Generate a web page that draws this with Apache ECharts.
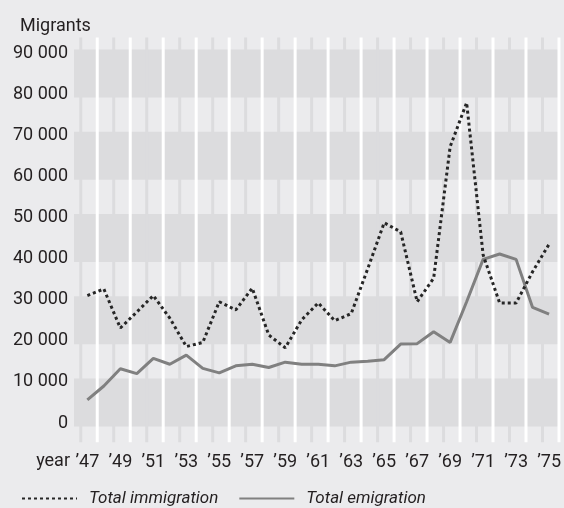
<!DOCTYPE html>
<html>
<head>
<meta charset="utf-8">
<script src="https://cdn.jsdelivr.net/npm/echarts@6/dist/echarts.min.js"></script>
<style>
html,body{margin:0;padding:0;background:#ebebed;}
#chart{width:564px;height:508px;}
</style>
</head>
<body>
<div id="chart"></div>
<script>
// ---- data ----
const years = [1947,1948,1949,1950,1951,1952,1953,1954,1955,1956,1957,1958,1959,1960,1961,1962,1963,1964,1965,1966,1967,1968,1969,1970,1971,1972,1973,1974,1975];
const immigration = [31000,32600,23100,27000,31000,25500,18600,19600,29500,27500,32800,21400,18300,25100,29200,24900,26600,37500,48700,46500,29500,35200,67200,77900,40900,29200,29200,36800,43500];
const emigration = [5600,9000,13200,12000,15700,14300,16500,13300,12200,13900,14300,13500,14800,14300,14300,13900,14800,15000,15400,19200,19300,22200,19600,29500,39800,41100,39800,28100,26500];
const yTicks = [0,10000,20000,30000,40000,50000,60000,70000,80000,90000];
const xLabelYears = [1947,1949,1951,1953,1955,1957,1959,1961,1963,1965,1967,1969,1971,1973,1975];
const bandStarts = [0,20000,40000,60000,80000];
const seriesNames = ['Total immigration','Total emigration'];

const FONT = "Roboto,'Liberation Sans',sans-serif";
const TXT = '#231f20';
const BG = '#ebebed';
const DARK = '#dcdcde';
const XMIN = 1946.19, XMAX = 1975.64;
const BAND_PAD = 850;
const LINE_TOP = 93800, LINE_BOT = -4700;

// vertical guide positions (between years)
const vlines = [];
for (let y = 1946; y <= 1975; y++) vlines.push([y + 0.6, (y % 2 === 0) ? 1 : 0]);

const chart = echarts.init(document.getElementById('chart'), null, {renderer:'canvas'});
chart.setOption({
  backgroundColor: BG,
  animation: false,
  textStyle: {fontFamily: FONT},
  title: {
    text: 'Migrants', left: 15, top: 12,
    textStyle: {fontFamily: FONT, fontSize: 18, fontWeight: 'normal', color: TXT}
  },
  graphic: [{
    type: 'text', right: 564 - 70, top: 452,
    style: {text: 'year', fontFamily: FONT, fontSize: 18, fill: TXT}
  }],
  legend: {
    data: seriesNames,
    left: 16, top: 485,
    itemWidth: 55, itemHeight: 14, itemGap: 20,
    itemStyle: {opacity: 0},
    textStyle: {fontFamily: FONT, fontSize: 17, fontStyle: 'italic', color: TXT, padding: [0,0,0,7]}
  },
  grid: {left: 74, right: 0, top: 53, bottom: 85},
  xAxis: {
    type: 'value', min: XMIN, max: XMAX,
    axisLine: {show: false}, axisTick: {show: false}, splitLine: {show: false},
    axisLabel: {
      customValues: xLabelYears,
      margin: 30,
      fontFamily: FONT, fontSize: 18, color: TXT,
      formatter: v => '\u2019' + String(v).slice(2)
    }
  },
  yAxis: {
    type: 'value', min: yTicks[0], max: yTicks[yTicks.length-1], interval: 10000,
    axisLine: {show: false}, axisTick: {show: false}, splitLine: {show: false},
    axisLabel: {
      margin: 6, fontFamily: FONT, fontSize: 18, color: TXT,
      formatter: v => v === 0 ? '0' : (v/1000) + ' 000'
    }
  },
  series: [
    {
      type: 'custom', name: 'bands', silent: true, z: 1,
      data: bandStarts.map(v => [XMIN, v]),
      renderItem: (params, api) => {
        const cs = params.coordSys;
        const v = api.value(1);
        const yTop = api.coord([XMIN, v + 10000 + BAND_PAD])[1];
        const yBot = api.coord([XMIN, v - BAND_PAD])[1];
        return {type: 'rect', shape: {x: cs.x, y: yTop, width: cs.width, height: yBot - yTop}, style: {fill: DARK}};
      }
    },
    {
      type: 'custom', name: 'vlines', silent: true, z: 2, clip: false,
      data: vlines,
      renderItem: (params, api) => {
        const xv = api.value(0);
        const x = api.coord([xv, 0])[0];
        const yT = api.coord([xv, LINE_TOP])[1];
        const yB = api.coord([xv, LINE_BOT])[1];
        const white = api.value(1) === 0;
        return {type: 'rect', shape: {x: x - 1.5, y: yT, width: 3, height: yB - yT}, style: {fill: white ? '#ffffff' : DARK}};
      }
    },
    {
      type: 'line', name: seriesNames[0], z: 5,
      data: years.map((y, i) => [y, immigration[i]]),
      symbol: 'none',
      lineStyle: {color: '#262626', width: 3, type: [3, 3], cap: 'butt'},
      itemStyle: {color: '#262626'}
    },
    {
      type: 'line', name: seriesNames[1], z: 4,
      data: years.map((y, i) => [y, emigration[i]]),
      symbol: 'none',
      lineStyle: {color: '#808080', width: 3},
      itemStyle: {color: '#808080'}
    }
  ]
});
</script>
</body>
</html>
